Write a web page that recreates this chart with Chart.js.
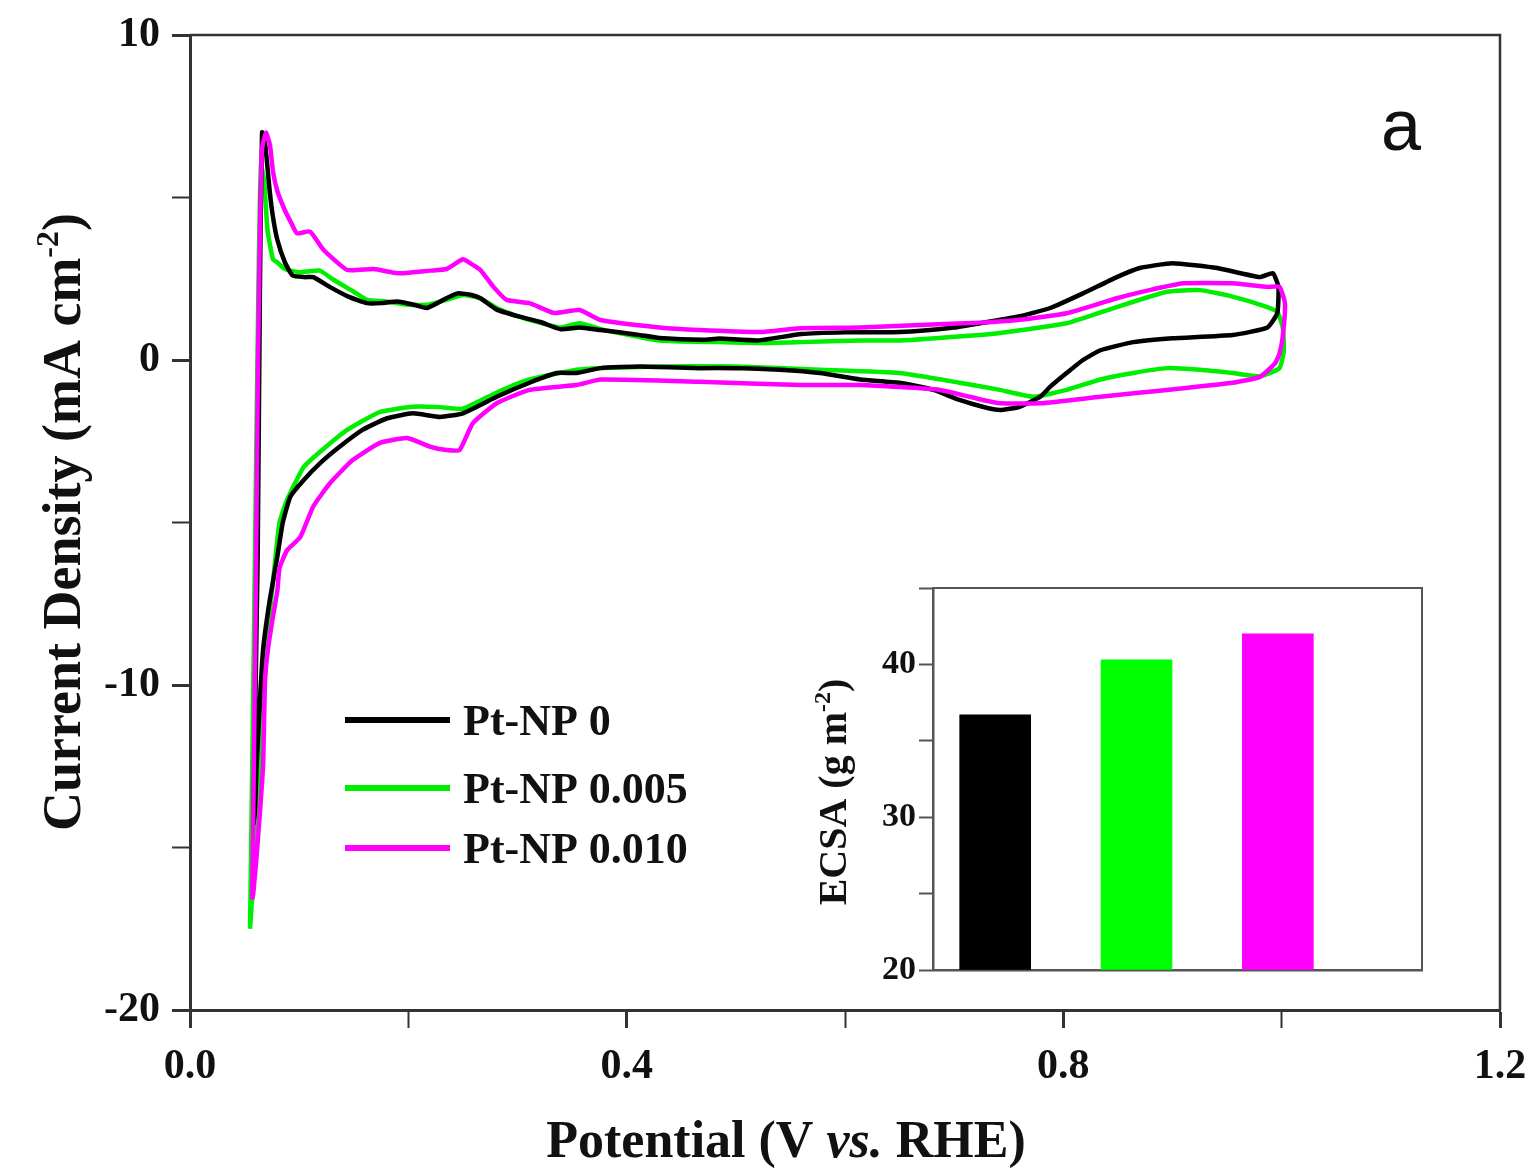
<!DOCTYPE html>
<html>
<head>
<meta charset="utf-8">
<script src="https://cdn.jsdelivr.net/npm/chart.js@4.4.1/dist/chart.umd.min.js"></script>
<style>
  html, body { margin: 0; padding: 0; background: #fff; }
  #wrap { position: relative; width: 1535px; height: 1170px; }
  #main { position: absolute; left: 0; top: 0; }
  #inset { position: absolute; left: 800px; top: 560px; }
</style>
</head>
<body>
<div id="wrap">
  <canvas id="main" width="1535" height="1170"></canvas>
  <canvas id="inset" width="640" height="440"></canvas>
</div>
<script>
// ---------- Data ---------- //
const seriesNames = ['Pt-NP 0', 'Pt-NP 0.005', 'Pt-NP 0.010'];
const seriesColors = ['#000000', '#00ee00', '#ff00ff'];

// CV loops: anodic sweep 0.05 -> 1.0 V, then cathodic sweep back (V vs. RHE, mA cm-2)
const blackV = [0.058, 0.062, 0.064, 0.066, 0.069, 0.073, 0.076, 0.080, 0.087, 0.094,
  0.105, 0.113, 0.128, 0.145, 0.162, 0.175, 0.190, 0.205, 0.217, 0.232,
  0.245, 0.258, 0.266, 0.281, 0.300, 0.321, 0.339, 0.357, 0.376, 0.410,
  0.430, 0.470, 0.485, 0.520, 0.560, 0.600, 0.650, 0.700, 0.724, 0.758,
  0.788, 0.818, 0.849, 0.870, 0.900, 0.941, 0.980, 0.992, 0.997,
  0.996, 0.987, 0.955, 0.900, 0.864, 0.834, 0.818, 0.803, 0.788, 0.779,
  0.760, 0.742, 0.726, 0.705, 0.681, 0.650, 0.614, 0.577, 0.540, 0.500,
  0.467, 0.412, 0.376, 0.354, 0.336, 0.311, 0.281, 0.250, 0.229, 0.204,
  0.180, 0.158, 0.137, 0.119, 0.104, 0.092, 0.085, 0.080, 0.073, 0.067,
  0.064, 0.061, 0.0595, 0.058];
const blackJ = [-14.3, -6, 2, 7.0, 6.6, 5.2, 4.4, 3.7, 3.0, 2.6,
  2.55, 2.55, 2.25, 1.95, 1.75, 1.75, 1.8, 1.7, 1.6, 1.85,
  2.05, 2.0, 1.9, 1.55, 1.35, 1.17, 0.95, 1.0, 0.92, 0.78,
  0.68, 0.62, 0.66, 0.6, 0.8, 0.85, 0.86, 1.0, 1.13, 1.33,
  1.6, 2.05, 2.55, 2.83, 2.98, 2.83, 2.55, 2.67, 2.25,
  1.44, 1.0, 0.77, 0.67, 0.55, 0.3, 0.0, -0.4, -0.82, -1.13,
  -1.44, -1.54, -1.44, -1.23, -0.92, -0.7, -0.6, -0.4, -0.3, -0.25,
  -0.25, -0.2, -0.25, -0.4, -0.4, -0.7, -1.13, -1.64, -1.75, -1.64,
  -1.8, -2.15, -2.67, -3.18, -3.7, -4.2, -5.0, -6.05, -7.4, -8.9,
  -10.5, -12.5, -13.9, -14.3];

const greenV = [0.055, 0.058, 0.061, 0.063, 0.065, 0.068, 0.071, 0.076, 0.080, 0.087,
  0.100, 0.119, 0.130, 0.150, 0.162, 0.180, 0.199, 0.217, 0.235, 0.250,
  0.266, 0.281, 0.300, 0.320, 0.339, 0.357, 0.376, 0.430, 0.485, 0.522,
  0.560, 0.614, 0.650, 0.724, 0.742, 0.803, 0.849, 0.895, 0.925, 0.955,
  0.987, 0.996,
  1.001, 1.002, 0.998, 0.980, 0.955, 0.925, 0.895, 0.864, 0.834, 0.803,
  0.772, 0.742, 0.705, 0.650, 0.577, 0.500, 0.430, 0.376, 0.354, 0.311,
  0.281, 0.250, 0.229, 0.204, 0.174, 0.144, 0.120, 0.104, 0.089, 0.082,
  0.077, 0.071, 0.066, 0.062, 0.059, 0.056, 0.055];
const greenJ = [-17.5, -10, -2, 3, 6.0, 5.5, 4.0, 3.1, 3.0, 2.8,
  2.7, 2.75, 2.5, 2.1, 1.85, 1.8, 1.7, 1.7, 1.85, 2.0,
  1.9, 1.6, 1.35, 1.15, 1.0, 1.13, 0.95, 0.6, 0.55, 0.52,
  0.55, 0.6, 0.6, 0.77, 0.83, 1.13, 1.63, 2.1, 2.15, 1.95,
  1.63, 1.48,
  1.0, 0.3, -0.25, -0.5, -0.4, -0.3, -0.25, -0.4, -0.6, -0.92,
  -1.13, -0.92, -0.7, -0.4, -0.3, -0.2, -0.2, -0.25, -0.3, -0.6,
  -1.0, -1.5, -1.45, -1.44, -1.6, -2.15, -2.8, -3.3, -4.3, -5.0,
  -6.5, -8.5, -11, -13.5, -15.5, -17.0, -17.5];

const magentaV = [0.057, 0.060, 0.0623, 0.0641, 0.066, 0.0696, 0.0733, 0.076, 0.080, 0.087,
  0.093, 0.098, 0.110, 0.122, 0.144, 0.168, 0.190, 0.204, 0.220, 0.235,
  0.250, 0.258, 0.266, 0.278, 0.290, 0.311, 0.333, 0.357, 0.376, 0.430,
  0.467, 0.522, 0.559, 0.614, 0.669, 0.724, 0.758, 0.803, 0.849, 0.879,
  0.910, 0.955, 0.987, 0.998,
  1.003, 1.001, 0.998, 0.994, 0.980, 0.955, 0.895, 0.834, 0.779, 0.742,
  0.726, 0.687, 0.614, 0.559, 0.467, 0.376, 0.354, 0.311, 0.281, 0.259,
  0.247, 0.235, 0.220, 0.199, 0.174, 0.149, 0.128, 0.113, 0.101, 0.089,
  0.082, 0.080, 0.076, 0.0714, 0.0687, 0.0669, 0.0614, 0.058, 0.057];
const magentaJ = [-16.6, -8, 0, 4, 6.5, 7.0, 6.6, 5.8, 5.2, 4.6,
  4.2, 3.9, 3.95, 3.4, 2.77, 2.8, 2.67, 2.7, 2.75, 2.8,
  3.1, 2.95, 2.77, 2.25, 1.85, 1.75, 1.45, 1.54, 1.23, 1.0,
  0.92, 0.86, 0.98, 1.0, 1.08, 1.15, 1.23, 1.44, 1.9, 2.15,
  2.36, 2.36, 2.25, 2.25,
  1.75, 0.72, 0.2, -0.1, -0.52, -0.7, -0.92, -1.13, -1.33, -1.33,
  -1.23, -0.92, -0.77, -0.77, -0.67, -0.6, -0.77, -0.92, -1.33, -1.95,
  -2.77, -2.77, -2.67, -2.4, -2.55, -3.08, -3.8, -4.5, -5.45, -5.85,
  -6.4, -7.1, -7.9, -8.9, -9.9, -12.5, -15.1, -16.4, -16.6];

// Inset: ECSA per sample
const ecsaPos = [1, 2, 3];
const ecsaValues = [36.7, 40.3, 42.0];

// ---------- Helpers ---------- //
const SERIF = '"Liberation Serif", "Times New Roman", serif';
const toPoints = (xs, ys) => xs.map((x, i) => ({ x: x, y: ys[i] }));

// draw a list of text runs (with optional raise) centred on x
function drawRuns(ctx, runs, x, y) {
  let total = 0;
  runs.forEach(r => { ctx.font = r.font; total += ctx.measureText(r.text).width; });
  let cx = x - total / 2;
  ctx.textAlign = 'left';
  ctx.textBaseline = 'alphabetic';
  runs.forEach(r => {
    ctx.font = r.font;
    ctx.fillText(r.text, cx, y + (r.dy || 0));
    cx += ctx.measureText(r.text).width;
  });
}

function cvDataset(i, xs, ys, order) {
  return {
    label: seriesNames[i],
    data: toPoints(xs, ys),
    borderColor: seriesColors[i],
    backgroundColor: seriesColors[i],
    showLine: true,
    pointRadius: 0,
    borderWidth: 4.5,
    tension: 0.15,
    fill: false,
    order: order
  };
}

// ---------- Main CV chart ---------- //
const mainDecor = {
  id: 'mainDecor',
  afterDraw(chart) {
    const { ctx, chartArea: a } = chart;
    ctx.save();
    // top + right frame
    ctx.strokeStyle = '#333';
    ctx.lineWidth = 2.5;
    ctx.beginPath();
    ctx.moveTo(a.left, a.top);
    ctx.lineTo(a.right, a.top);
    ctx.lineTo(a.right, a.bottom);
    ctx.stroke();

    // legend
    const legendY = [720, 788, 848];
    seriesNames.forEach((name, i) => {
      ctx.strokeStyle = seriesColors[i];
      ctx.lineWidth = 6;
      ctx.beginPath();
      ctx.moveTo(345, legendY[i]);
      ctx.lineTo(450, legendY[i]);
      ctx.stroke();
      ctx.fillStyle = '#111';
      ctx.font = 'bold 44px ' + SERIF;
      ctx.textAlign = 'left';
      ctx.textBaseline = 'alphabetic';
      ctx.fillText(name, 463, legendY[i] + 15);
    });

    // panel label
    ctx.fillStyle = '#111';
    ctx.font = '72px "Liberation Sans", Arial, sans-serif';
    ctx.textAlign = 'center';
    ctx.fillText('a', 1401, 150);

    // x title
    drawRuns(ctx, [
      { text: 'Potential (V ', font: 'bold 52px ' + SERIF },
      { text: 'vs.', font: 'italic bold 52px ' + SERIF },
      { text: ' RHE)', font: 'bold 52px ' + SERIF }
    ], 786, 1157);

    // y title
    ctx.translate(80, 522);
    ctx.rotate(-Math.PI / 2);
    drawRuns(ctx, [
      { text: 'Current Density (mA cm', font: 'bold 54px ' + SERIF },
      { text: '-2', font: 'bold 32px ' + SERIF, dy: -22 },
      { text: ')', font: 'bold 54px ' + SERIF }
    ], 0, 0);
    ctx.restore();
  }
};

new Chart(document.getElementById('main'), {
  type: 'scatter',
  data: {
    datasets: [
      cvDataset(2, magentaV, magentaJ, 1),
      cvDataset(0, blackV, blackJ, 2),
      cvDataset(1, greenV, greenJ, 3)
    ]
  },
  options: {
    responsive: false,
    animation: false,
    devicePixelRatio: 1,
    layout: { padding: { top: 35, right: 35, left: 0, bottom: 0 } },
    plugins: { legend: { display: false }, tooltip: { enabled: false } },
    scales: {
      x: {
        type: 'linear', min: 0, max: 1.2,
        afterFit: s => { s.height = 160; s.paddingLeft = 0; s.paddingRight = 0; },
        border: { display: true, color: '#333', width: 3 },
        grid: { drawOnChartArea: false, drawTicks: true, tickLength: 18, tickColor: '#333',
          tickWidth: c => (c.tick && Math.round(c.tick.value * 10) % 4 === 0) ? 3 : 2 },
        ticks: {
          stepSize: 0.2, autoSkip: false, maxRotation: 0, padding: 14, color: '#111',
          font: { family: SERIF, size: 42, weight: 'bold' },
          callback: v => (Math.round(v * 10) % 4 === 0 ? v.toFixed(1) : '')
        }
      },
      y: {
        type: 'linear', min: -20, max: 10,
        afterFit: s => { s.width = 190; s.paddingTop = 0; s.paddingBottom = 0; },
        border: { display: true, color: '#333', width: 3 },
        grid: { drawOnChartArea: false, drawTicks: true, tickLength: 18, tickColor: '#333',
          tickWidth: c => (c.tick && c.tick.value % 10 === 0) ? 3 : 2 },
        ticks: {
          stepSize: 5, autoSkip: false, padding: 12, color: '#111',
          font: { family: SERIF, size: 42, weight: 'bold' },
          callback: v => (v % 10 === 0 ? String(v) : '')
        }
      }
    }
  },
  plugins: [mainDecor]
});

// ---------- Inset ECSA bar chart ---------- //
const insetDecor = {
  id: 'insetDecor',
  afterDraw(chart) {
    const { ctx, chartArea: a } = chart;
    ctx.save();
    ctx.strokeStyle = '#555';
    ctx.lineWidth = 2;
    ctx.beginPath();
    ctx.moveTo(a.left, a.top);
    ctx.lineTo(a.right, a.top);
    ctx.lineTo(a.right, a.bottom);
    ctx.stroke();

    ctx.fillStyle = '#111';
    ctx.translate(46, 232);
    ctx.rotate(-Math.PI / 2);
    drawRuns(ctx, [
      { text: 'ECSA (g m', font: 'bold 40px ' + SERIF },
      { text: '-2', font: 'bold 24px ' + SERIF, dy: -16 },
      { text: ')', font: 'bold 40px ' + SERIF }
    ], 0, 0);
    ctx.restore();
  }
};

new Chart(document.getElementById('inset'), {
  type: 'bar',
  data: {
    datasets: [{
      data: toPoints(ecsaPos, ecsaValues),
      backgroundColor: seriesColors.map((c, i) => i === 1 ? '#00ff00' : c),
      borderWidth: 0,
      barThickness: 71,
      base: 20
    }]
  },
  options: {
    responsive: false,
    animation: false,
    devicePixelRatio: 1,
    layout: { padding: { top: 28, right: 18, left: 0, bottom: 0 } },
    plugins: { legend: { display: false }, tooltip: { enabled: false } },
    scales: {
      x: {
        type: 'linear', min: 0.56, max: 4.02, offset: false,
        afterFit: s => { s.height = 30; },
        ticks: { display: false },
        grid: { display: false, offset: false },
        border: { display: true, color: '#555', width: 2.5 }
      },
      y: {
        type: 'linear', min: 20, max: 45,
        afterFit: s => { s.width = 133; },
        border: { display: true, color: '#555', width: 2.5 },
        grid: { drawOnChartArea: false, drawTicks: true, tickLength: 14, tickColor: '#555', tickWidth: 2 },
        ticks: {
          stepSize: 5, autoSkip: false, padding: 3, color: '#111',
          font: { family: SERIF, size: 34, weight: 'bold' },
          callback: v => (v % 10 === 0 ? String(v) : '')
        }
      }
    }
  },
  plugins: [insetDecor]
});
</script>
</body>
</html>
